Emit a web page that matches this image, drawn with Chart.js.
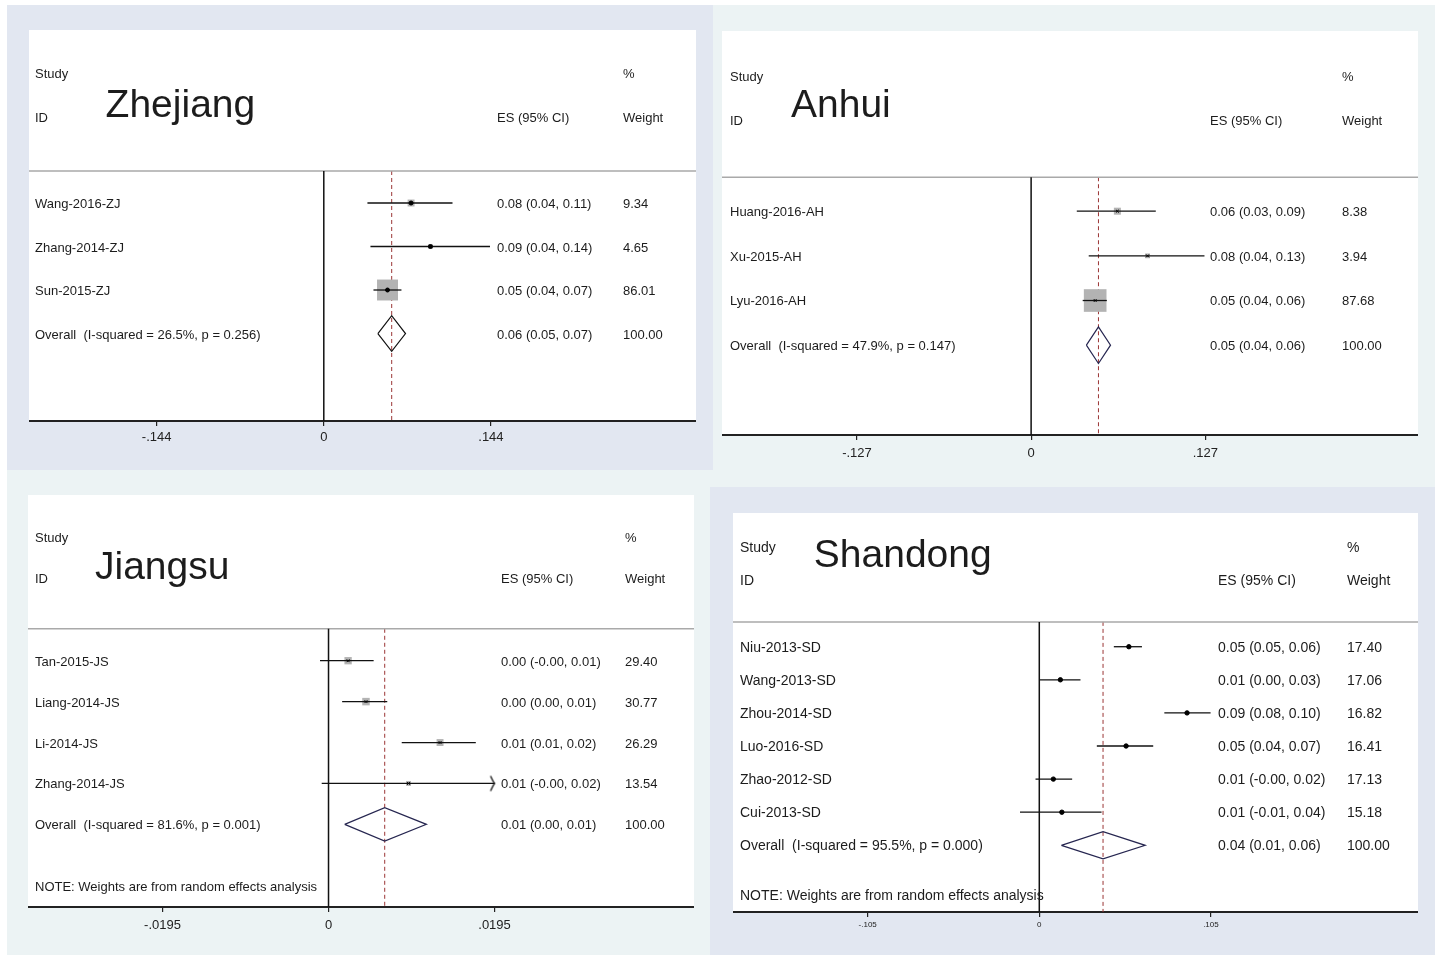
<!DOCTYPE html>
<html><head><meta charset="utf-8">
<script src="https://cdn.jsdelivr.net/npm/chart.js@4.4.1/dist/chart.umd.min.js"></script>
<style>
html,body{margin:0;padding:0;background:#fff;}
body{width:1438px;height:955px;position:relative;overflow:hidden;font-family:"Liberation Sans",Arial,sans-serif;color:#1c1c1c;}
.bg{position:absolute;}
canvas{position:absolute;}
.t{position:absolute;white-space:pre;transform:translateY(-50%);line-height:1;}
</style></head><body>
<div class="bg" style="left:7px;top:5px;width:1428px;height:950px;background:#ecf3f4"></div>
<div class="bg" style="left:7px;top:5px;width:706px;height:465px;background:#e2e7f1"></div>
<div class="bg" style="left:710px;top:487px;width:725px;height:468px;background:#e2e7f1"></div>
<script>
// ---------- DATA ----------
// Zhejiang
const zjStudies = ['Wang-2016-ZJ', 'Zhang-2014-ZJ', 'Sun-2015-ZJ'];
const zjES = [0.0752, 0.0919, 0.0549];
const zjLo = [0.0376, 0.0402, 0.0428];
const zjHi = [0.1109, 0.1432, 0.0669];
const zjWeight = [9.34, 4.65, 86.01];
const zjOverall = [0.0585, 0.0466, 0.0704]; // ES, lower, upper
const zjHet = 'Overall  (I-squared = 26.5%, p = 0.256)';
const zjTicks = [-0.144, 0, 0.144];

// Anhui
const ahStudies = ['Huang-2016-AH', 'Xu-2015-AH', 'Lyu-2016-AH'];
const ahES = [0.0629, 0.0849, 0.0467];
const ahLo = [0.0333, 0.0420, 0.0376];
const ahHi = [0.0909, 0.1264, 0.0552];
const ahWeight = [8.38, 3.94, 87.68];
const ahOverall = [0.0491, 0.0403, 0.0579];
const ahHet = 'Overall  (I-squared = 47.9%, p = 0.147)';
const ahTicks = [-0.127, 0, 0.127];

// Jiangsu
const jsStudies = ['Tan-2015-JS', 'Liang-2014-JS', 'Li-2014-JS', 'Zhang-2014-JS'];
const jsES = [0.0023, 0.0044, 0.0131, 0.0094];
const jsLo = [-0.0010, 0.0016, 0.0086, -0.0008];
const jsHi = [0.0053, 0.0069, 0.0173, 0.0220];
const jsWeight = [29.40, 30.77, 26.29, 13.54];
const jsOverall = [0.0066, 0.0019, 0.0115];
const jsHet = 'Overall  (I-squared = 81.6%, p = 0.001)';
const jsTicks = [-0.0195, 0, 0.0195];

// Shandong
const sdStudies = ['Niu-2013-SD', 'Wang-2013-SD', 'Zhou-2014-SD', 'Luo-2016-SD', 'Zhao-2012-SD', 'Cui-2013-SD'];
const sdES = [0.0548, 0.0129, 0.0904, 0.0531, 0.0086, 0.0138];
const sdLo = [0.0456, 0.0002, 0.0765, 0.0352, -0.0023, -0.0118];
const sdHi = [0.0628, 0.0252, 0.1048, 0.0697, 0.0201, 0.0381];
const sdWeight = [17.40, 17.06, 16.82, 16.41, 17.13, 15.18];
const sdOverall = [0.0390, 0.0135, 0.0648];
const sdHet = 'Overall  (I-squared = 95.5%, p = 0.000)';
const sdTicks = [-0.105, 0, 0.105];

const noteText = 'NOTE: Weights are from random effects analysis';

// ---------- LAYOUT / STYLE ----------
const FONT = '"Liberation Sans", Arial, sans-serif';
const panels = [
  {title:'Zhejiang', studies:zjStudies, es:zjES, lo:zjLo, hi:zjHi, w:zjWeight, overall:zjOverall, het:zjHet, ticks:zjTicks, note:null,
   box:{l:28.5, t:30, w:667, h:391}, tickArea:32, xmin:-0.2540, xmax:0.3207, ymin:-3.977, ymax:5.011,
   headerY:-0.736, hdr:[-2.99,-1.98], titleX:105.6, titleY:-2.3, cols:[35,497,623], font:13, tickFont:13, tickPad:4,
   boxK:2.26, marker:'circle', markerR:2, diamond:'#111'},
  {title:'Anhui', studies:ahStudies, es:ahES, lo:ahLo, hi:ahHi, w:ahWeight, overall:ahOverall, het:ahHet, ticks:ahTicks, note:null,
   box:{l:722, t:30.7, w:696, h:404.3}, tickArea:34, xmin:-0.2254, xmax:0.2821, ymin:-4.034, ymax:5.011,
   headerY:-0.76, hdr:[-3.02,-2.04], titleX:791, titleY:-2.42, cols:[730,1210,1342], font:13, tickFont:13, tickPad:6,
   boxK:2.42, marker:'crossRot', markerR:2, diamond:'#262650'},
  {title:'Jiangsu', studies:jsStudies, es:jsES, lo:jsLo, hi:jsHi, w:jsWeight, overall:jsOverall, het:jsHet, ticks:jsTicks, note:5.51,
   box:{l:28, t:495, w:666, h:412}, tickArea:34, xmin:-0.0353, xmax:0.04293, ymin:-4.05, ymax:6.02,
   headerY:-0.78, hdr:[-3.02,-2.02], titleX:95, titleY:-2.34, cols:[35,501,625], font:13, tickFont:13, tickPad:6,
   boxK:1.35, marker:'crossRot', markerR:2, diamond:'#262650'},
  {title:'Shandong', studies:sdStudies, es:sdES, lo:sdLo, hi:sdHi, w:sdWeight, overall:sdOverall, het:sdHet, ticks:sdTicks, note:7.5,
   box:{l:733, t:513, w:685, h:399}, tickArea:25, xmin:-0.1874, xmax:0.2317, ymin:-4.04, ymax:8.015,
   headerY:-0.75, hdr:[-3.01,-2.02], titleX:813.8, titleY:-2.83, cols:[740,1218,1347], font:14, tickFont:8, tickPad:3,
   boxK:0, marker:'circle', markerR:2.2, diamond:'#262650'}
];

function makeArrow(){
  const c = document.createElement('canvas');
  c.width = 12; c.height = 18;
  const g = c.getContext('2d');
  g.strokeStyle = '#111'; g.lineWidth = 1.3;
  g.beginPath(); g.moveTo(2,1.5); g.quadraticCurveTo(5,8,6,9); g.quadraticCurveTo(5,10,2,16.5); g.stroke();
  return c;
}
const arrowImg = makeArrow();

function fmtTick(v){
  if (v === 0) return '0';
  return (v < 0 ? '-' : '') + String(Math.abs(v)).replace(/^0/, '');
}

function buildDatasets(p){
  const ds = [];
  const n = p.studies.length;
  const cMin = p.ticks[0], cMax = p.ticks[p.ticks.length-1];
  const base = {showLine:true, pointRadius:0, borderCapStyle:'butt', fill:false, tension:0};
  ds.push(Object.assign({}, base, {data:[{x:p.overall[0], y:p.headerY}, {x:p.overall[0], y:p.ymax}], borderColor:'#9b3535', borderWidth:1, borderDash:[4,3], order:8}));
  ds.push(Object.assign({}, base, {data:[{x:0, y:p.headerY}, {x:0, y:p.ymax}], borderColor:'#111', borderWidth:1.5, order:7}));
  ds.push(Object.assign({}, base, {data:[{x:p.xmin, y:p.headerY}, {x:p.xmax, y:p.headerY}], borderColor:'#a9a9a9', borderWidth:1.5, order:7}));
  if (p.boxK > 0) {
    ds.push({data:p.es.map((v,i)=>({x:v, y:i})), pointStyle:'rect',
      pointRadius:p.w.map(w=>p.boxK*Math.sqrt(w)/Math.SQRT2), backgroundColor:'#b3b3b3', borderColor:'#b3b3b3', borderWidth:0, order:6});
  }
  p.es.forEach((v,i)=>{
    ds.push(Object.assign({}, base, {data:[{x:Math.max(p.lo[i], cMin), y:i}, {x:Math.min(p.hi[i], cMax), y:i}], borderColor:'#111', borderWidth:1.3, order:4}));
    if (p.hi[i] > cMax) ds.push({data:[{x:cMax, y:i}], pointStyle:arrowImg, pointRadius:3, order:3});
    if (p.lo[i] < cMin) ds.push({data:[{x:cMin, y:i}], pointStyle:arrowImg, rotation:180, pointRadius:3, order:3});
  });
  ds.push({data:p.es.map((v,i)=>({x:v, y:i})), pointStyle:p.marker, pointRadius:p.markerR,
    backgroundColor:'#000', borderColor:'#000', borderWidth:1, order:1});
  const o = p.overall, h = 0.41;
  ds.push(Object.assign({}, base, {data:[{x:o[1], y:n}, {x:o[0], y:n-h}, {x:o[2], y:n}, {x:o[0], y:n+h}, {x:o[1], y:n}],
    borderColor:p.diamond, borderWidth:1.2, borderJoinStyle:'miter', order:2}));
  return ds;
}

function addText(txt, x, y, size){
  const d = document.createElement('div');
  d.className = 't';
  d.textContent = txt;
  d.style.left = x + 'px';
  d.style.top = y + 'px';
  d.style.fontSize = size + 'px';
  document.body.appendChild(d);
  return d;
}

panels.forEach(p=>{
  const cv = document.createElement('canvas');
  const W = p.box.w, H = p.box.h + p.tickArea;
  cv.width = W; cv.height = H;
  cv.style.left = p.box.l + 'px'; cv.style.top = p.box.t + 'px';
  cv.style.width = W + 'px'; cv.style.height = H + 'px';
  cv.style.background = 'linear-gradient(#fff,#fff) no-repeat 0 0 / 100% ' + p.box.h + 'px';
  document.body.appendChild(cv);
  const chart = new Chart(cv.getContext('2d'), {
    type:'scatter',
    data:{datasets:buildDatasets(p)},
    options:{
      responsive:false, animation:false, events:[],
      layout:{padding:0, autoPadding:false},
      plugins:{legend:{display:false}, tooltip:{enabled:false}},
      scales:{
        x:{type:'linear', min:p.xmin, max:p.xmax,
          afterBuildTicks:s=>{ s.ticks = p.ticks.map(v=>({value:v})); },
          afterFit:s=>{ s.height = p.tickArea; },
          grid:{display:true, drawOnChartArea:false, drawTicks:true, tickLength:5, color:'#222', lineWidth:1.2},
          border:{display:true, color:'#222', width:2},
          ticks:{color:'#222', font:{family:FONT, size:p.tickFont}, padding:p.tickPad, maxRotation:0, autoSkip:false, callback:v=>fmtTick(v)}},
        y:{type:'linear', min:p.ymin, max:p.ymax, reverse:true, display:false}
      }
    }
  });
  const ys = chart.scales.y;
  const Y = v => p.box.t + ys.getPixelForValue(v);
  const [cL, cE, cW] = p.cols;
  addText('Study', cL, Y(p.hdr[0]), p.font);
  addText('ID', cL, Y(p.hdr[1]), p.font);
  addText('ES (95% CI)', cE, Y(p.hdr[1]), p.font);
  addText('%', cW, Y(p.hdr[0]), p.font);
  addText('Weight', cW, Y(p.hdr[1]), p.font);
  addText(p.title, p.titleX, Y(p.titleY), 39);
  p.studies.forEach((s,i)=>{
    addText(s, cL, Y(i), p.font);
    addText(p.es[i].toFixed(2) + ' (' + p.lo[i].toFixed(2) + ', ' + p.hi[i].toFixed(2) + ')', cE, Y(i), p.font);
    addText(p.w[i].toFixed(2), cW, Y(i), p.font);
  });
  const n = p.studies.length;
  addText(p.het, cL, Y(n), p.font);
  addText(p.overall[0].toFixed(2) + ' (' + p.overall[1].toFixed(2) + ', ' + p.overall[2].toFixed(2) + ')', cE, Y(n), p.font);
  addText('100.00', cW, Y(n), p.font);
  if (p.note !== null) addText(noteText, cL, Y(p.note), p.font);
});
</script>
</body></html>
